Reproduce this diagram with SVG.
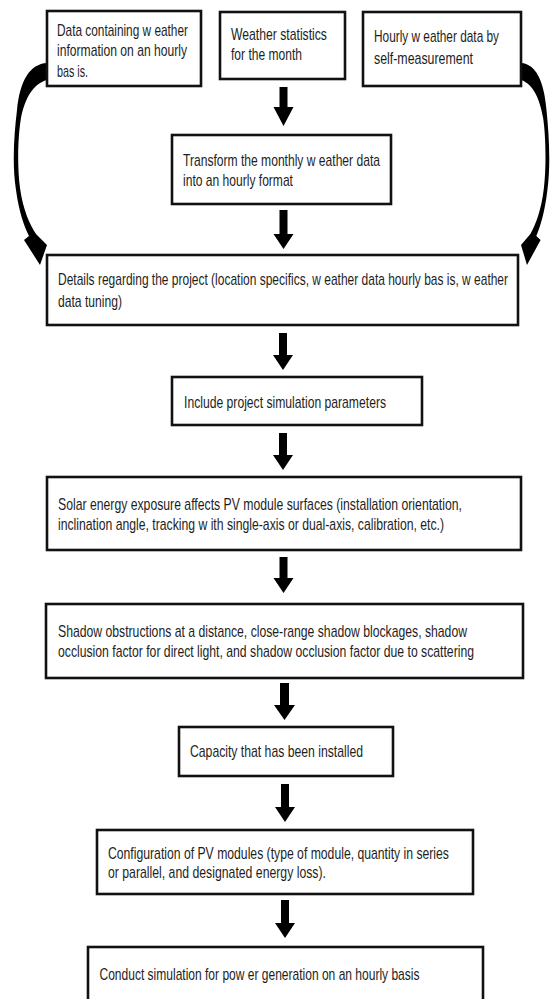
<svg xmlns="http://www.w3.org/2000/svg" width="551" height="999" viewBox="0 0 551 999">
<style>
.box{fill:#fff;stroke:#111;stroke-width:2.6}
.t{font-family:"Liberation Sans",Arial,sans-serif;font-size:16px;fill:#1e1e1e}
.arr{fill:#000}
</style>
<rect width="551" height="999" fill="#fff"/>
<g id="connectors">
<path class="arr" d="M47,63 C30,64 20,80 17,110 C14,135 12,165 16,190 C19,212 24,226 29,236 L24,240 L40,265 L47,245 L36,234 C30,225 23,210 20,188 C17,165 18,135 21,118 C25,98 33,84 47,80 Z"/>
<path class="arr" d="M521,63 C535.5,64 544,80 546.5,110 C549,135 550.8,165 547.4,190 C544.8,212 540.6,226 536.3,236 L540.6,240 L527,265 L521,245 L530.4,234 C535.5,225 541.4,210 543.9,188 C546.5,165 545.7,135 543.1,118 C539.7,98 532.9,84 521,80 Z"/>
<path class="arr" d="M279.5,87 H287.5 V107 H293.5 L283.5,126 L273.5,107 H279.5 Z"/>
<path class="arr" d="M279.5,210 H287.5 V234 H293.5 L283.5,249 L273.5,234 H279.5 Z"/>
<path class="arr" d="M279,333 H287 V355 H293 L283,370 L273,355 H279 Z"/>
<path class="arr" d="M279,433 H287 V455 H293 L283,470 L273,455 H279 Z"/>
<path class="arr" d="M279.5,557 H287.5 V578 H293.5 L283.5,593 L273.5,578 H279.5 Z"/>
<path class="arr" d="M280,683 H289 V705 H295 L284.5,720 L274,705 H280 Z"/>
<path class="arr" d="M281,784 H289 V807 H295 L285,822 L275,807 H281 Z"/>
<path class="arr" d="M281,900 H289 V923 H295 L285,938 L275,923 H281 Z"/>
</g>
<g id="n1">
<rect class="box" x="47" y="11" width="154" height="75"/>
<text class="t" transform="translate(57,35.5) scale(0.7,1)" textLength="187.1" lengthAdjust="spacingAndGlyphs">Data containing w eather</text>
<text class="t" transform="translate(57,56) scale(0.7,1)" textLength="185.7" lengthAdjust="spacingAndGlyphs">information on an hourly</text>
<text class="t" transform="translate(57,76.5) scale(0.7,1)" textLength="44.3" lengthAdjust="spacingAndGlyphs">bas is.</text>
</g>
<g id="n2">
<rect class="box" x="220" y="12" width="125" height="67"/>
<text class="t" transform="translate(231,39.5) scale(0.7,1)" textLength="137.1" lengthAdjust="spacingAndGlyphs">Weather statistics</text>
<text class="t" transform="translate(231,60) scale(0.7,1)" textLength="101.4" lengthAdjust="spacingAndGlyphs">for the month</text>
</g>
<g id="n3">
<rect class="box" x="363" y="12" width="158" height="74"/>
<text class="t" transform="translate(374,42) scale(0.7,1)" textLength="178.6" lengthAdjust="spacingAndGlyphs">Hourly w eather data by</text>
<text class="t" transform="translate(374,64) scale(0.7,1)" textLength="141.4" lengthAdjust="spacingAndGlyphs">self-measurement</text>
</g>
<g id="n4">
<rect class="box" x="172" y="135" width="219" height="69"/>
<text class="t" transform="translate(183,166) scale(0.7,1)" textLength="281.4" lengthAdjust="spacingAndGlyphs">Transform the monthly w eather data</text>
<text class="t" transform="translate(183,186) scale(0.7,1)" textLength="157.1" lengthAdjust="spacingAndGlyphs">into an hourly format</text>
</g>
<g id="n5">
<rect class="box" x="47" y="255" width="471" height="70"/>
<text class="t" transform="translate(58,285) scale(0.7,1)" textLength="642.9" lengthAdjust="spacingAndGlyphs">Details regarding the project (location specifics, w eather data hourly bas is, w eather</text>
<text class="t" transform="translate(58,307) scale(0.7,1)" textLength="91.4" lengthAdjust="spacingAndGlyphs">data tuning)</text>
</g>
<g id="n6">
<rect class="box" x="172" y="377" width="250" height="48"/>
<text class="t" transform="translate(184,408) scale(0.7,1)" textLength="288.6" lengthAdjust="spacingAndGlyphs">Include project simulation parameters</text>
</g>
<g id="n7">
<rect class="box" x="47" y="477" width="474" height="73"/>
<text class="t" transform="translate(58,510) scale(0.7,1)" textLength="577.1" lengthAdjust="spacingAndGlyphs">Solar energy exposure affects PV module surfaces (installation orientation,</text>
<text class="t" transform="translate(58,530) scale(0.7,1)" textLength="551.4" lengthAdjust="spacingAndGlyphs">inclination angle, tracking w ith single-axis or dual-axis, calibration, etc.)</text>
</g>
<g id="n8">
<rect class="box" x="46" y="604" width="477" height="74"/>
<text class="t" transform="translate(58,637) scale(0.7,1)" textLength="584.3" lengthAdjust="spacingAndGlyphs">Shadow obstructions at a distance, close-range shadow blockages, shadow</text>
<text class="t" transform="translate(58,657) scale(0.7,1)" textLength="594.3" lengthAdjust="spacingAndGlyphs">occlusion factor for direct light, and shadow occlusion factor due to scattering</text>
</g>
<g id="n9">
<rect class="box" x="179" y="727" width="214" height="49"/>
<text class="t" transform="translate(190,757) scale(0.7,1)" textLength="247.1" lengthAdjust="spacingAndGlyphs">Capacity that has been installed</text>
</g>
<g id="n10">
<rect class="box" x="97" y="830" width="376" height="64"/>
<text class="t" transform="translate(108,859) scale(0.7,1)" textLength="487.1" lengthAdjust="spacingAndGlyphs">Configuration of PV modules (type of module, quantity in series</text>
<text class="t" transform="translate(108,878) scale(0.7,1)" textLength="311.4" lengthAdjust="spacingAndGlyphs">or parallel, and designated energy loss).</text>
</g>
<g id="n11">
<rect class="box" x="88" y="947" width="395" height="60"/>
<text class="t" transform="translate(99.5,980) scale(0.7,1)" textLength="457.1" lengthAdjust="spacingAndGlyphs">Conduct simulation for pow er generation on an hourly basis</text>
</g>
</svg>
